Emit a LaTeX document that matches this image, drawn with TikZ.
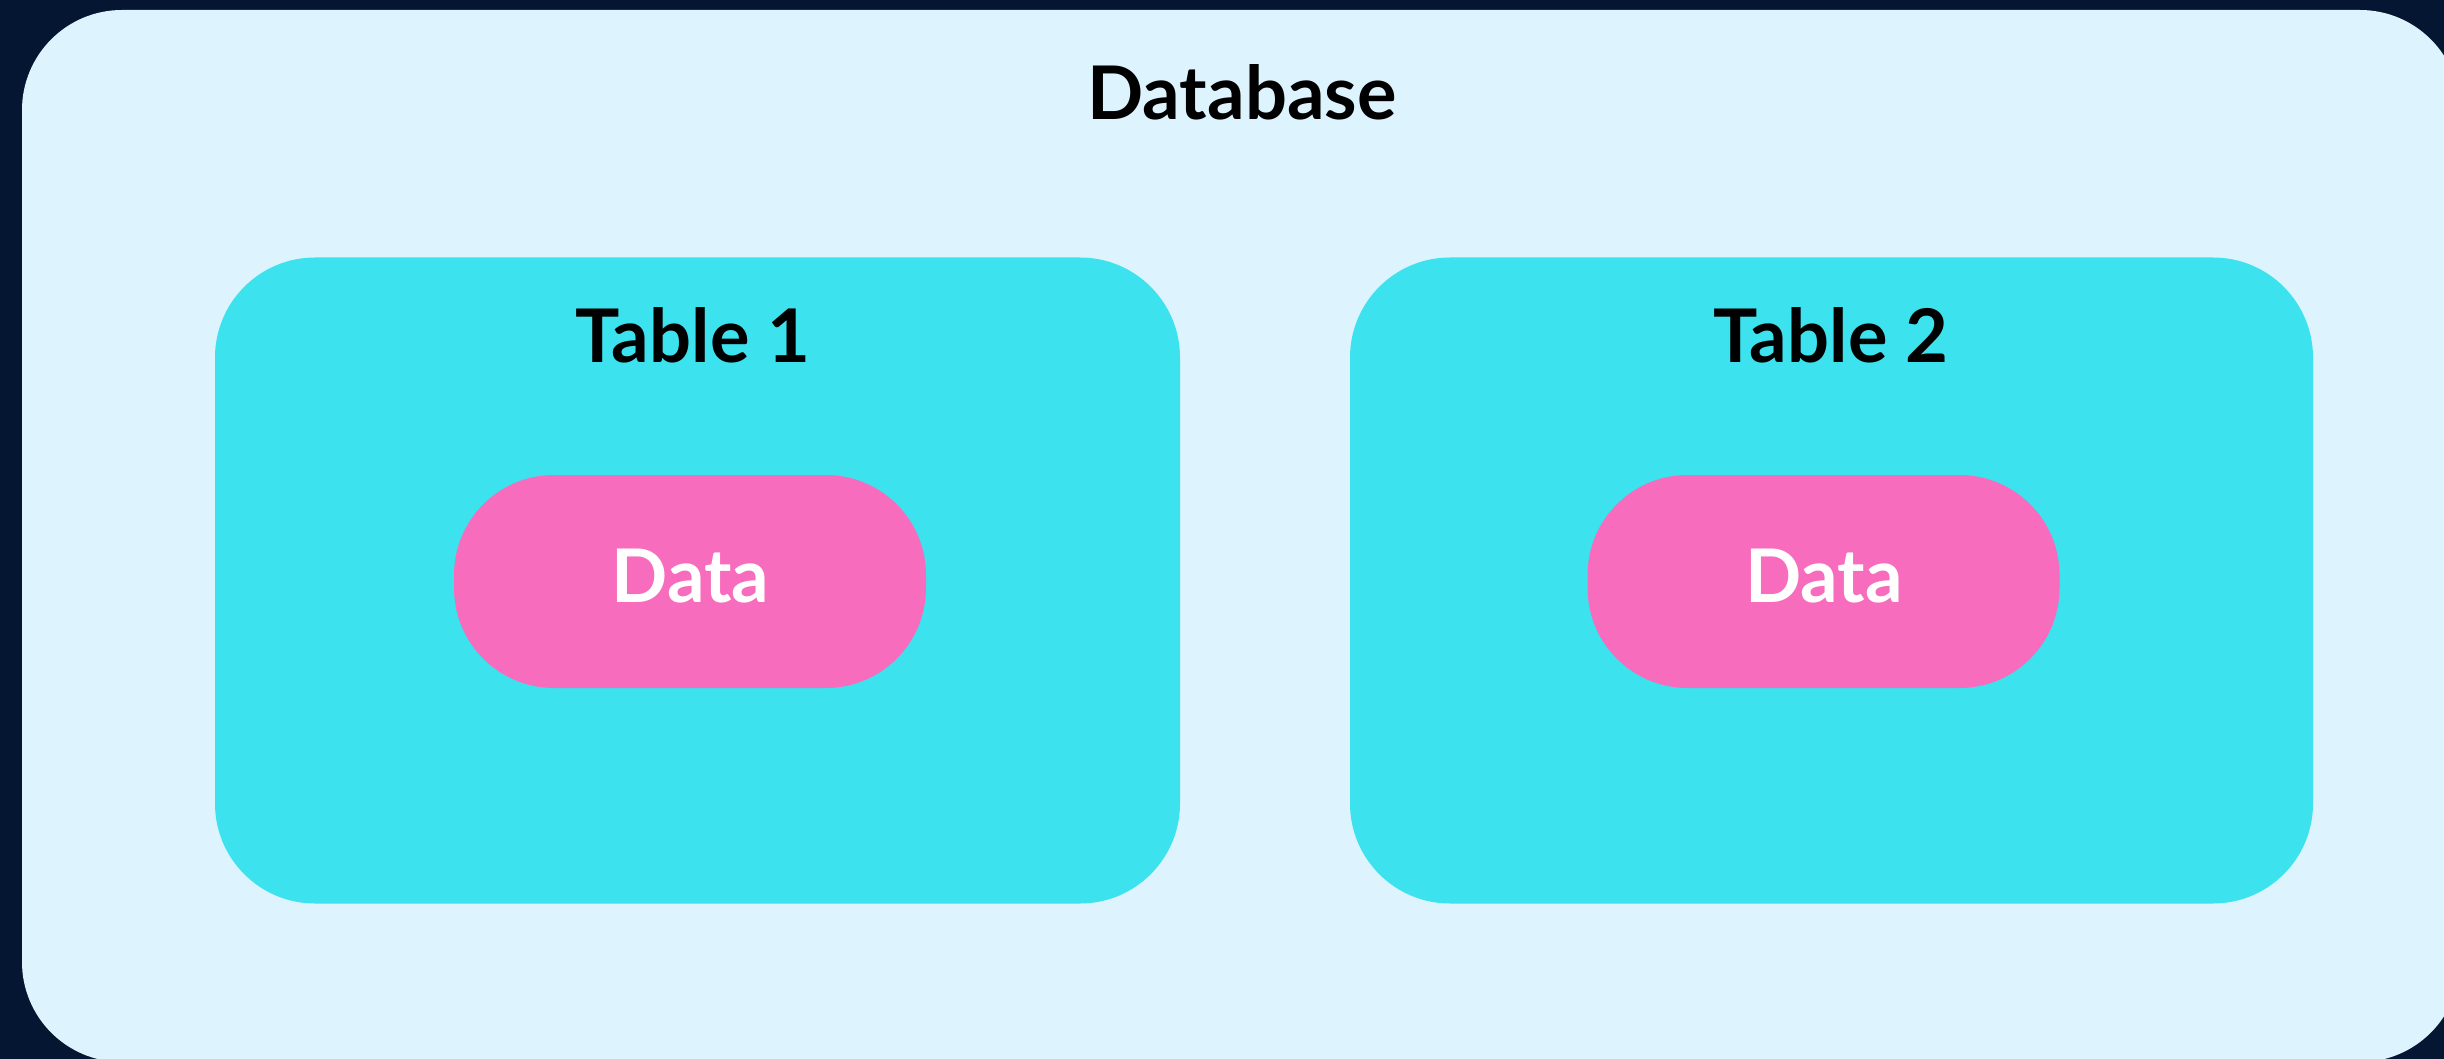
\documentclass[tikz,border=0pt]{standalone}
\usepackage{fontspec}
\setmainfont{Lato}
\definecolor{navy}{HTML}{041631}
\definecolor{lightbg}{HTML}{DDF3FD}
\definecolor{cyanbox}{HTML}{3CE2EE}
\definecolor{pinkpill}{HTML}{F76CBC}
\tikzset{
  outerbox/.style={fill=lightbg, draw=none, rounded corners=100pt, inner sep=0pt},
  tablebox/.style={fill=cyanbox, draw=none, rounded corners=100pt, inner sep=0pt, minimum height=646pt},
  pillbox/.style={fill=pinkpill, draw=none, rounded corners=100pt, inner sep=0pt, minimum height=213pt, minimum width=472pt},
  titletext/.style={anchor=base, inner sep=0pt, text=black, font=\fontsize{74}{80}\selectfont\bfseries},
  datatext/.style={anchor=base, inner sep=0pt, text=white, font=\fontsize{74}{80}\selectfont\bfseries},
}
\begin{document}
\begin{tikzpicture}[x=1pt,y=-1pt]
\useasboundingbox (0,0) rectangle (2444,1059);
\clip (0,0) rectangle (2444,1059);
\fill[navy] (0,0) rectangle (2444,1059);
\node[outerbox, minimum width=2438pt, minimum height=1052pt] (db) at (1241,536) {};
\node[tablebox, minimum width=965pt] (t1) at (697.5,580.5) {};
\node[tablebox, minimum width=963pt] (t2) at (1831.5,580.5) {};
\node[pillbox] (p1) at (690,581.5) {};
\node[pillbox] (p2) at (1823.5,581.5) {};
\node[titletext] (dbt) at (1242,120) {Database};
\node[titletext] (t1t) at (693,362) {Table 1};
\node[titletext] (t2t) at (1831,362) {Table 2};
\node[datatext] (d1) at (690.5,602) {Data};
\node[datatext] (d2) at (1824,602) {Data};
\end{tikzpicture}
\end{document}
